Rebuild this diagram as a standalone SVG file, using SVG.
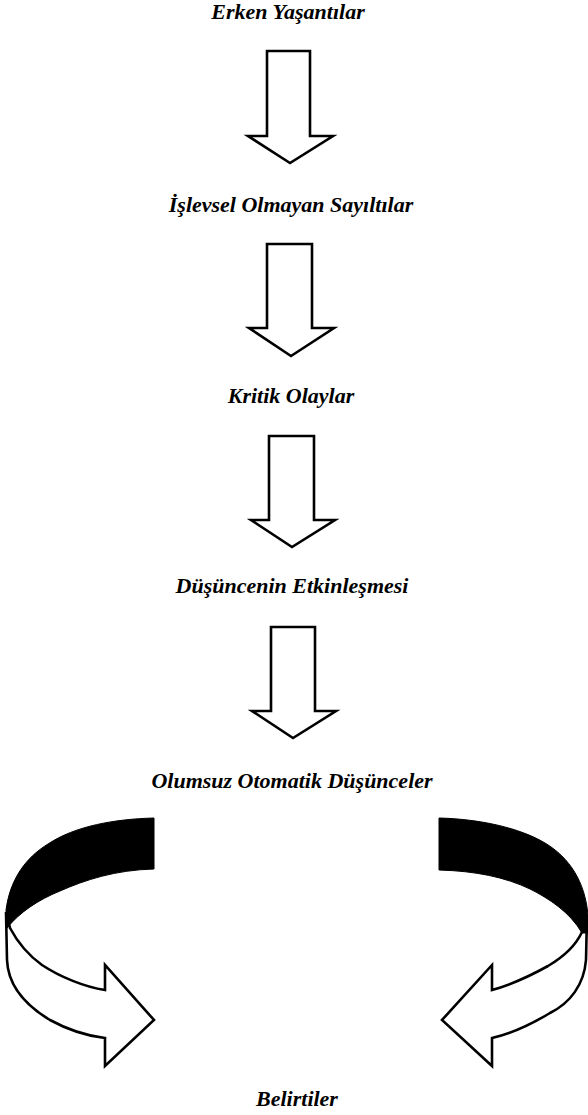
<svg xmlns="http://www.w3.org/2000/svg" width="588" height="1115" viewBox="0 0 588 1115">
<style>
.t{font-family:'Liberation Serif','DejaVu Serif',serif;font-weight:700;font-style:italic;font-size:22px;fill:#000;text-anchor:middle}
.a{fill:#fff;stroke:#000;stroke-width:2.6;stroke-linejoin:miter}
.b{fill:#000;stroke:#000;stroke-width:1}
</style>
<rect width="588" height="1115" fill="#fff"/>
<g id="n1"><text class="t" x="288" y="19">Erken Yaşantılar</text></g>
<g id="n2"><text class="t" x="291" y="212">İşlevsel Olmayan Sayıltılar</text></g>
<g id="n3"><text class="t" x="291" y="403">Kritik Olaylar</text></g>
<g id="n4"><text class="t" x="292" y="593">Düşüncenin Etkinleşmesi</text></g>
<g id="n5"><text class="t" x="292" y="788">Olumsuz Otomatik Düşünceler</text></g>
<g id="n6"><text class="t" x="297" y="1106">Belirtiler</text></g>
<g id="connectors">
<path class="a" d="M267,51 H310 V136 H333 L290,163 L248,136 H267 Z"/>
<path class="a" d="M267,244 H312 V328 H334 L291,356 L249,328 H267 Z"/>
<path class="a" d="M269,436 H314 V520 H335 L292,547 L251,520 H269 Z"/>
<path class="a" d="M271,627 H315 V711 H336 L293,738 L252,711 H271 Z"/>
<g id="loop-left">
<path class="a" d="M6,912 L7,960 C8,985 25,1005 50,1020 C70,1031 88,1036 105,1038 L105,1066 L154,1020 L105,965 L105,990 C85,987 60,977 42,965 C28,955 18,943 10,928 Z"/>
<path class="b" d="M154,818 C115,819 75,826 48,844 C25,858 10,880 6,910 L7,928 C20,912 38,900 60,891 C85,880 115,870 154,869 Z"/>
</g>
<g id="loop-right">
<path class="a" d="M587,915 L586,960 C584,985 570,1003 550,1013 C530,1025 510,1034 492,1038 L492,1066 L442,1020 L492,965 L492,990 C510,985 530,976 548,966 C565,956 576,945 582,932 Z"/>
<path class="b" d="M439,818 C480,819 520,828 545,843 C570,858 585,882 588,915 L588,933 L582,933 C570,912 548,898 530,889 C505,877 475,871 439,870 Z"/>
</g>
</g>
</svg>
